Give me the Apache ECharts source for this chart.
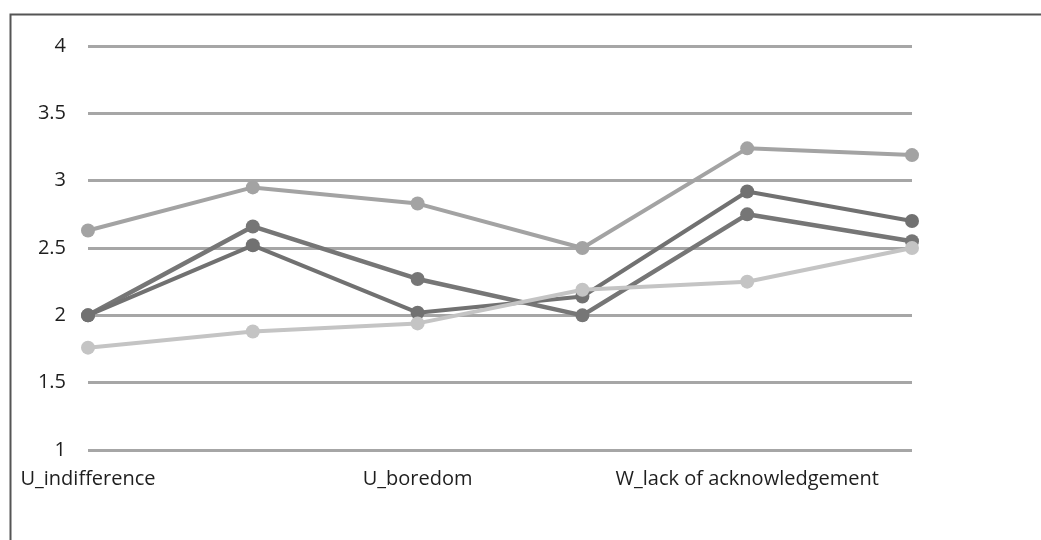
<!DOCTYPE html>
<html>
<head>
<meta charset="utf-8">
<script src="https://cdn.jsdelivr.net/npm/echarts@6/dist/echarts.min.js"></script>
<style>
  html, body { margin: 0; padding: 0; background: #fff; }
  #chart { width: 1041px; height: 540px; }
</style>
</head>
<body>
<div id="chart"></div>
<script>
// Category names (only every other one is labelled on the axis)
const categories = [
  'U_indifference', 'U_isolation', 'U_boredom',
  'W_pressure', 'W_lack of acknowledgement', 'W_injustice'
];

// Mean scores per group
const seriesA = [2.63, 2.95, 2.83, 2.50, 3.24, 3.19];
const seriesB = [2.00, 2.66, 2.27, 2.00, 2.75, 2.55];
const seriesC = [2.00, 2.52, 2.02, 2.14, 2.92, 2.70];
const seriesD = [1.76, 1.88, 1.94, 2.19, 2.25, 2.50];

const yTicks = { min: 1, max: 4, step: 0.5 };

const FONT = '"Open Sans", "Noto Sans", sans-serif';

function lineSeries(name, data, color, width) {
  return {
    name: name,
    type: 'line',
    data: data,
    symbol: 'circle',
    symbolSize: 14,
    lineStyle: { color: color, width: width },
    itemStyle: { color: color },
    emphasis: { disabled: true },
    animation: false
  };
}

const chart = echarts.init(document.getElementById('chart'));
chart.setOption({
  backgroundColor: '#ffffff',
  animation: false,
  grid: { left: 88, right: 129, top: 46, bottom: 90, containLabel: false },
  xAxis: {
    type: 'category',
    data: categories,
    boundaryGap: false,
    axisLine: { show: false },
    axisTick: { show: false },
    axisLabel: {
      interval: 1,
      margin: 19,
      color: '#1e1e1e',
      fontSize: 20,
      fontFamily: FONT
    },
    splitLine: { show: false }
  },
  yAxis: {
    type: 'value',
    min: yTicks.min,
    max: yTicks.max,
    interval: yTicks.step,
    axisLine: { show: false },
    axisTick: { show: false },
    axisLabel: {
      margin: 22,
      color: '#1e1e1e',
      fontSize: 20,
      fontFamily: FONT
    },
    splitLine: { lineStyle: { color: '#a6a6a6', width: 3 } }
  },
  series: [
    lineSeries('A', seriesA, '#a3a3a3', 4),
    lineSeries('B', seriesB, '#767676', 4.5),
    lineSeries('C', seriesC, '#717171', 4),
    lineSeries('D', seriesD, '#c4c4c4', 4)
  ],
  graphic: [{
    type: 'rect',
    left: 8,
    top: 12,
    shape: { width: 1060, height: 560 },
    style: { fill: 'none', stroke: '#555555', lineWidth: 2 },
    silent: true
  }]
});
</script>
</body>
</html>
